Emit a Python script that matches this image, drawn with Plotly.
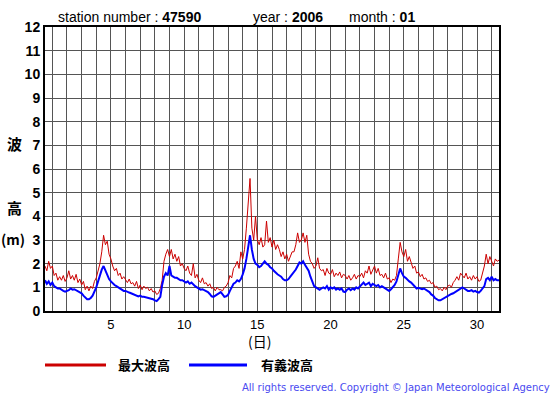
import plotly.graph_objects as go

# 3-hourly samples starting at day 1 00:00 (x = 0.5) through day 31 24:00 (x = 31.5)
max_wave = [
    1.9, 1.7, 2.1, 1.8, 1.9, 1.5, 1.6, 1.3,
    1.45, 1.3, 1.5, 1.25, 1.4, 1.7, 1.35, 1.5,
    1.3, 1.55, 1.2, 1.35, 1.1, 1.25, 0.9, 1.05,
    0.85, 1.05, 0.95, 1.25, 1.4, 1.75, 2.0, 2.5,
    3.2, 2.8, 2.95, 2.4, 2.2, 1.9, 1.7, 1.8,
    1.5, 1.6, 1.35, 1.45, 1.3, 1.2, 1.35, 1.15,
    1.2, 1.05, 1.25, 0.95, 1.1, 0.9, 1.05, 0.95,
    1.0, 0.85, 0.95, 0.8, 0.85, 0.7, 0.75, 0.95,
    1.3, 2.1, 2.4, 2.6, 2.3, 2.6, 2.2, 2.4,
    2.1, 2.3, 1.9, 2.0, 1.8, 1.7, 1.9, 1.6,
    1.5, 2.0, 1.4, 1.55, 1.3, 1.2, 1.4, 1.15,
    1.2, 1.05, 1.15, 0.95, 1.0, 0.85, 1.0, 0.9,
    0.9, 0.85, 1.0, 1.05, 1.2, 1.5, 1.4, 1.8,
    1.9, 2.1, 1.8, 2.5, 2.2, 2.6, 3.5, 4.5,
    5.6, 3.5, 3.0, 4.0, 3.0, 2.8, 3.1, 2.7,
    2.8, 3.8, 2.9, 3.1, 2.7, 3.0, 2.6, 2.8,
    2.6, 2.3, 2.5, 2.2, 2.4, 2.1, 2.3, 2.5,
    2.5, 2.8, 3.3, 2.9, 3.0, 3.3, 2.9, 3.2,
    2.4, 2.1, 2.0, 1.8, 1.9, 2.25, 1.8, 1.7,
    1.75, 1.5, 1.8, 1.6, 1.55, 1.75, 1.45, 1.6,
    1.5, 1.65, 1.4, 1.55, 1.5, 1.35, 1.5, 1.3,
    1.4, 1.55, 1.35, 1.5, 1.45, 1.6, 1.4, 1.7,
    1.6, 1.9, 1.55, 1.75, 1.9, 1.6, 1.8, 1.5,
    1.55, 1.4, 1.6, 1.35, 1.4, 1.2, 1.35, 1.3,
    1.5, 2.2, 2.9, 2.5, 2.3, 2.6, 2.1, 2.3,
    2.0, 1.8, 1.9, 1.6, 1.65, 1.45, 1.55, 1.35,
    1.4, 1.25, 1.3, 1.15, 1.2, 1.0, 1.05, 0.9,
    0.95, 0.85, 1.0, 0.9, 1.05, 1.1, 1.0, 1.2,
    1.3, 1.45, 1.3, 1.6, 1.5, 1.4, 1.6, 1.35,
    1.45, 1.3, 1.5, 1.35, 1.45, 1.25, 1.3, 1.6,
    1.9, 2.4, 2.0, 2.3, 2.1, 1.9, 2.2, 2.1,
    2.15,
]

sig_wave = [
    1.3, 1.15, 1.25, 1.1, 1.2, 1.05, 1.0, 0.95,
    0.95, 0.88, 0.85, 0.82, 0.85, 0.88, 0.95, 0.9,
    0.92, 0.88, 0.85, 0.8, 0.75, 0.65, 0.55, 0.5,
    0.5, 0.55, 0.65, 0.8, 1.0, 1.25, 1.55, 1.75,
    1.9, 1.7, 1.55, 1.35, 1.25, 1.15, 1.1, 1.05,
    1.0, 0.95, 0.9, 0.85, 0.85, 0.8, 0.78, 0.75,
    0.72, 0.68, 0.65, 0.62, 0.65, 0.6, 0.6, 0.58,
    0.58, 0.55, 0.52, 0.5, 0.45, 0.42, 0.5, 0.6,
    1.1, 1.45, 1.6, 1.5, 1.9, 1.5, 1.45, 1.4,
    1.4, 1.35, 1.3, 1.3, 1.25, 1.2, 1.25, 1.15,
    1.2, 1.1, 1.05, 1.0, 0.95, 0.9, 0.92, 0.88,
    0.85, 0.8, 0.72, 0.62, 0.6, 0.65, 0.72, 0.78,
    0.8, 0.7, 0.6, 0.62, 0.68, 0.85, 1.0, 1.15,
    1.2, 1.3, 1.25, 1.35, 1.55, 1.8, 2.2, 2.8,
    3.2, 2.6, 2.2, 2.0, 1.95, 1.85, 1.9, 2.0,
    2.1, 2.0, 1.95, 1.85, 1.8, 1.7, 1.6, 1.55,
    1.5, 1.45, 1.35, 1.3, 1.3, 1.35, 1.45, 1.55,
    1.6, 1.75, 1.9, 2.05, 2.0, 2.1, 1.95, 1.8,
    1.7, 1.45, 1.2, 1.05, 1.0, 0.95, 0.9, 0.95,
    1.0, 0.95, 1.05, 0.9, 1.0, 0.95, 1.0, 0.9,
    0.95, 0.9, 0.95, 0.82, 0.8, 0.9, 0.95, 0.88,
    0.95, 0.9, 1.0, 0.95, 1.05, 1.1, 1.2, 1.1,
    1.15, 1.2, 1.05, 1.15, 1.1, 1.05, 1.1, 1.0,
    1.05, 1.0, 0.95, 0.88, 0.85, 0.92, 1.0, 1.1,
    1.25, 1.5, 1.8, 1.6, 1.45, 1.4, 1.3, 1.25,
    1.2, 1.1, 1.0, 0.95, 0.98, 0.95, 0.92, 0.95,
    0.9, 0.85, 0.8, 0.7, 0.65, 0.55, 0.5, 0.45,
    0.45, 0.5, 0.55, 0.6, 0.65, 0.7, 0.72, 0.75,
    0.8, 0.85, 0.9, 0.95, 1.0, 0.95, 0.88, 0.85,
    0.85, 0.88, 0.82, 0.85, 0.8, 0.78, 0.85, 0.95,
    1.05, 1.35, 1.4, 1.3, 1.45, 1.3, 1.35, 1.3,
    1.3,
]

samples_per_day = 8
x_start = 0.5
times = [x_start + i / samples_per_day for i in range(len(max_wave))]

day_ticks = list(range(1, 32))
day_labels = [str(d) if d % 5 == 0 else "" for d in day_ticks]
y_ticks = list(range(0, 13))

fig = go.Figure()
fig.add_trace(go.Scatter(x=times, y=max_wave, mode="lines",
                         line=dict(color="#cc0000", width=1), name="最大波高",
                         showlegend=False))
fig.add_trace(go.Scatter(x=times, y=sig_wave, mode="lines",
                         line=dict(color="#0000ff", width=2), name="有義波高",
                         showlegend=False))

fig.update_layout(
    width=555, height=395,
    margin=dict(l=45, r=56, t=27, b=84),
    paper_bgcolor="white", plot_bgcolor="white",
    font=dict(family="Liberation Sans, Arial, sans-serif", color="black"),
    xaxis=dict(range=[0.5, 31.5], tickmode="array", tickvals=day_ticks,
               ticktext=day_labels, showgrid=True, gridcolor="#555555",
               gridwidth=1, zeroline=False, showline=True, linecolor="black",
               linewidth=2, mirror=True, ticks="", tickfont=dict(size=13),
               automargin=False),
    yaxis=dict(range=[0, 12], tickmode="array", tickvals=y_ticks,
               ticktext=[f"<b>{v}</b>" for v in y_ticks],
               showgrid=True, gridcolor="#555555", gridwidth=1,
               zeroline=False, showline=True, linecolor="black", linewidth=2,
               mirror=True, ticks="", tickfont=dict(size=14), ticklabelstandoff=0,
               automargin=False),
)

ann = []
def add_text(x, y, text, size=13, xanchor="left", color="black", family=None):
    d = dict(x=x, y=y, xref="paper", yref="paper", text=text, showarrow=False,
             xanchor=xanchor, yanchor="middle",
             font=dict(size=size, color=color))
    if family:
        d["font"]["family"] = family
    ann.append(d)

pl, pr, pt, pb = 45, 499, 27, 311
def px(x):
    return (x - pl) / (pr - pl)
def py(y):
    return (pb - y) / (pb - pt)

add_text(px(56), py(17), "station number : <b>47590</b>", size=14)
add_text(px(251), py(17), "year : <b>2006</b>", size=14)
add_text(px(347), py(17), "month : <b>01</b>", size=14)

jp = "Noto Sans CJK JP"
add_text(px(14), py(143), "<b>波</b>", size=15, xanchor="center", family=jp)
add_text(px(14), py(208), "<b>高</b>", size=15, xanchor="center", family=jp)
add_text(px(13), py(239), "<b>(m)</b>", size=14, xanchor="center", family=jp)
add_text(px(259), py(341), "(日)", size=14, xanchor="center", family=jp)
add_text(px(116), py(364), "<b>最大波高</b>", size=13, family=jp)
add_text(px(259), py(364), "<b>有義波高</b>", size=13, family=jp)
add_text(px(552), py(387),
         "All rights reserved. Copyright © Japan Meteorological Agency",
         size=10, xanchor="right", color="#4a4af0",
         family="DejaVu Sans, sans-serif")

fig.update_layout(annotations=ann)

shapes = [
    dict(type="line", xref="paper", yref="paper", x0=px(45), x1=px(106),
         y0=py(365), y1=py(365), line=dict(color="#cc0000", width=3)),
    dict(type="line", xref="paper", yref="paper", x0=px(189), x1=px(247),
         y0=py(365), y1=py(365), line=dict(color="#0000ff", width=3)),
]
fig.update_layout(shapes=shapes)

fig.write_html("out.html", config={"displayModeBar": False},
               post_script="document.body.style.margin='0';document.body.style.padding='0';")
